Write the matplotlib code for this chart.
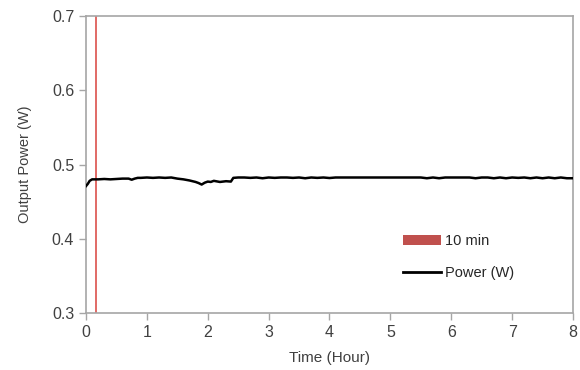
import matplotlib
matplotlib.use("Agg")
import matplotlib.pyplot as plt
from matplotlib.patches import Patch
from matplotlib.lines import Line2D

plt.rcParams['font.family'] = ['Liberation Sans', 'DejaVu Sans']

time_h = [0.0, 0.03, 0.06, 0.1, 0.2, 0.3, 0.4, 0.5, 0.6, 0.7, 0.75, 0.8, 0.85, 0.9,
          1.0, 1.1, 1.2, 1.3, 1.4, 1.5, 1.6, 1.7, 1.8, 1.85, 1.9, 1.95, 2.0, 2.05,
          2.1, 2.2, 2.3, 2.38, 2.42, 2.5, 2.6, 2.7, 2.8, 2.9, 3.0, 3.1, 3.2, 3.3,
          3.4, 3.5, 3.6, 3.7, 3.8, 3.9, 4.0, 4.1, 4.2, 4.3, 4.4, 4.5, 4.6, 4.7,
          4.8, 4.9, 5.0, 5.1, 5.2, 5.3, 5.4, 5.5, 5.6, 5.7, 5.8, 5.9, 6.0, 6.1,
          6.2, 6.3, 6.4, 6.5, 6.6, 6.7, 6.8, 6.9, 7.0, 7.1, 7.2, 7.3, 7.4, 7.5,
          7.6, 7.7, 7.8, 7.9, 8.0]
power_w = [0.471, 0.474, 0.478, 0.480, 0.480, 0.4805, 0.480, 0.4805, 0.481, 0.481,
           0.4795, 0.481, 0.482, 0.482, 0.4825, 0.482, 0.4825, 0.482, 0.4825, 0.481,
           0.480, 0.4785, 0.4765, 0.475, 0.473, 0.4755, 0.477, 0.4765, 0.478, 0.4765,
           0.4775, 0.477, 0.482, 0.4825, 0.4825, 0.482, 0.4825, 0.4815, 0.4825, 0.482,
           0.4825, 0.4825, 0.482, 0.4825, 0.4815, 0.4825, 0.482, 0.4825, 0.4818, 0.4825,
           0.4825, 0.4825, 0.4825, 0.4825, 0.4825, 0.4825, 0.4825, 0.4825, 0.4825, 0.4825,
           0.4825, 0.4825, 0.4825, 0.4825, 0.4815, 0.4825, 0.4815, 0.4825, 0.4825, 0.4825,
           0.4825, 0.4825, 0.4815, 0.4825, 0.4825, 0.4815, 0.4825, 0.4815, 0.4825, 0.482,
           0.4825, 0.4815, 0.4825, 0.4815, 0.4825, 0.4815, 0.4825, 0.4815, 0.4815]
marker_time = 10 / 60  # 10 min

x_ticks = [0, 1, 2, 3, 4, 5, 6, 7, 8]
y_ticks = [0.3, 0.4, 0.5, 0.6, 0.7]

fig = plt.figure(figsize=(5.8, 3.7), dpi=100)
ax = fig.add_axes([0.1483, 0.154, 0.8396, 0.8028])

ax.axvline(marker_time, color='#d9413c', lw=1.1, zorder=2)
ax.plot(time_h, power_w, color='black', lw=1.8, zorder=3)

ax.set_xlim(0, 8)
ax.set_ylim(0.3, 0.7)
ax.set_xticks(x_ticks)
ax.set_yticks(y_ticks)
ax.set_yticklabels([f"{v:.1f}" for v in y_ticks])

for s in ax.spines.values():
    s.set_color('#a6a6a6')
    s.set_linewidth(1.2)
ax.tick_params(axis='both', colors='#a6a6a6', length=5, width=1.0,
               labelcolor='#404040', labelsize=11.5)

ax.set_xlabel('Time (Hour)', fontsize=11, color='#404040', labelpad=8)
ax.set_ylabel('Output Power (W)', fontsize=10.5, color='#404040', labelpad=14)

handles = [Patch(facecolor='#c0504d', edgecolor='none'),
           Line2D([0], [0], color='black', lw=2)]
ax.legend(handles, ['10 min', 'Power (W)'], loc='upper left',
          bbox_to_anchor=(0.625, 0.31), frameon=False, fontsize=10.5,
          handlelength=2.6, handleheight=0.6, labelspacing=1.2, handletextpad=0.25,
          labelcolor='#262626')

fig.savefig('out.png', dpi=100)
